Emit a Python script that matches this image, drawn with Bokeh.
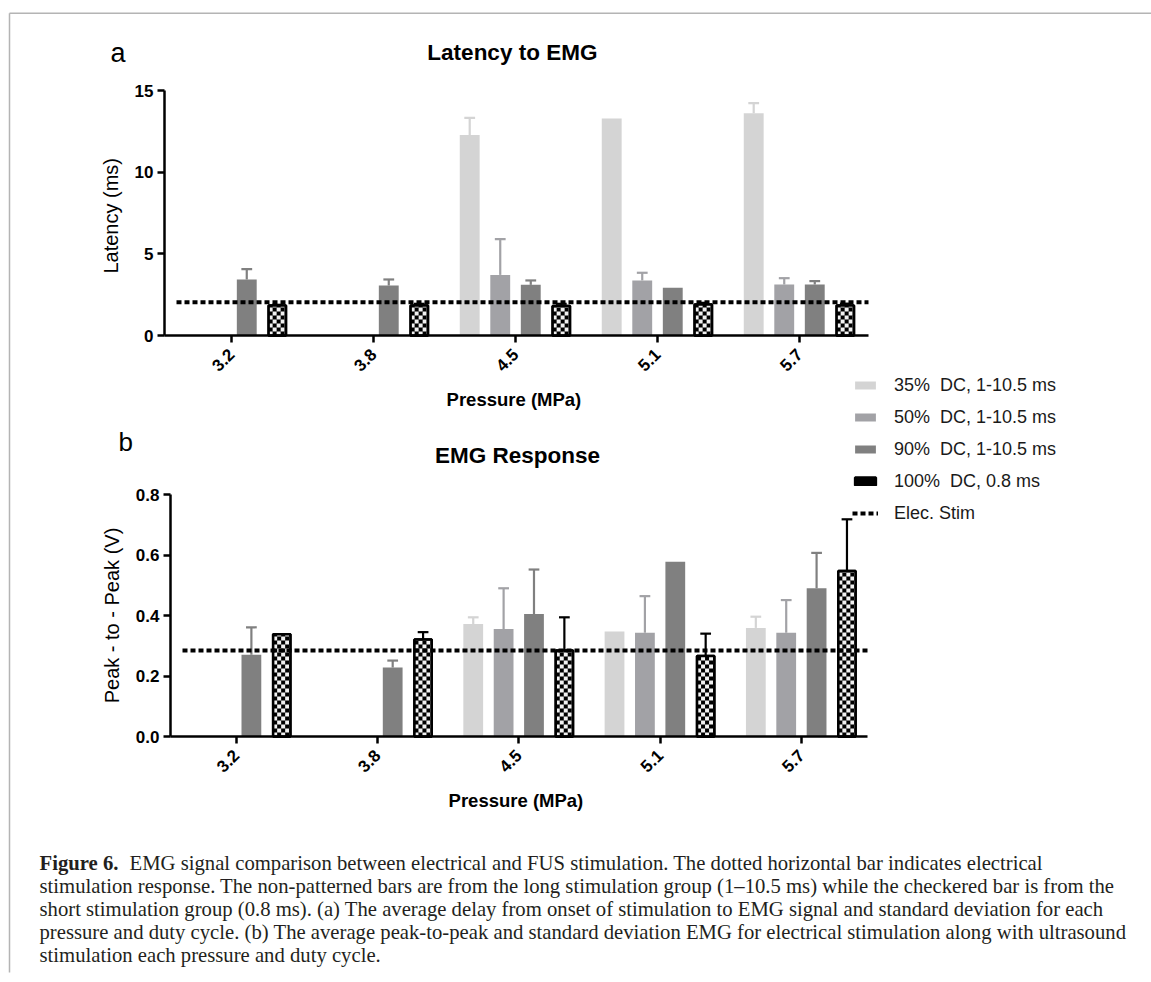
import math
from bokeh.plotting import figure
from bokeh.models import (ColumnDataSource, Range1d, FixedTicker, Label, Legend, LegendItem,
                          LinearAxis, NumeralTickFormatter)
from bokeh.embed import file_html
from bokeh.resources import INLINE

# ---------------- data ----------------
pressures = ["3.2", "3.8", "4.5", "5.1", "5.7"]
series_labels = ["35%  DC, 1-10.5 ms", "50%  DC, 1-10.5 ms", "90%  DC, 1-10.5 ms", "100%  DC, 0.8 ms"]
elec_label = "Elec. Stim"

nan = float("nan")
lat_35 = [nan, nan, 12.27, 13.29, 13.61]
lat_35_sd = [nan, nan, 1.06, 0.0, 0.62]
lat_50 = [nan, nan, 3.71, 3.37, 3.12]
lat_50_sd = [nan, nan, 2.19, 0.47, 0.39]
lat_90 = [3.43, 3.06, 3.10, 2.92, 3.12]
lat_90_sd = [0.63, 0.37, 0.27, 0.0, 0.21]
lat_100 = [1.84, 1.84, 1.80, 1.90, 1.84]
lat_100_sd = [0.04, 0.10, 0.14, 0.10, 0.11]
lat_elec = 2.03

emg_35 = [nan, nan, 0.372, 0.347, 0.359]
emg_35_sd = [nan, nan, 0.022, 0.0, 0.037]
emg_50 = [nan, nan, 0.355, 0.343, 0.343]
emg_50_sd = [nan, nan, 0.135, 0.121, 0.108]
emg_90 = [0.270, 0.228, 0.405, 0.578, 0.490]
emg_90_sd = [0.091, 0.023, 0.147, 0.0, 0.117]
emg_100 = [0.338, 0.321, 0.284, 0.266, 0.547]
emg_100_sd = [0.0, 0.024, 0.110, 0.074, 0.171]
emg_elec = 0.284

lat_ticks = [0, 5, 10, 15]
emg_ticks = [0.0, 0.2, 0.4, 0.6, 0.8]

title_a = "Latency to  EMG"
title_b = "EMG Response"
ylabel_a = "Latency  (ms)"
ylabel_b = "Peak - to - Peak (V)"
xlabel = "Pressure  (MPa)"

caption_bold = "Figure 6."
caption_lines = [
    "EMG signal comparison between electrical and FUS stimulation. The dotted horizontal bar indicates electrical",
    "stimulation response. The non-patterned bars are from the long stimulation group (1\u201310.5 ms) while the checkered bar is from the",
    "short stimulation group (0.8 ms). (a) The average delay from onset of stimulation to EMG signal and standard deviation for each",
    "pressure and duty cycle. (b) The average peak-to-peak and standard deviation EMG for electrical stimulation along with ultrasound",
    "stimulation each pressure and duty cycle.",
]

# ---------------- style / layout constants ----------------
W, H = 1151, 982
COLORS = ["#d4d4d4", "#a2a2a6", "#808080", "#000000"]
SANS = "Liberation Sans"
SERIF = "Liberation Serif"
STEP = 0.215      # offset between bars of a group (category units)
BAR_W = 0.14
CHK_W = 0.122
CAP = 0.038
CELL = 4.0        # checker cell size in px

# chart placement on the page: (x of first category, px per category,
#                                y of value 0, px per value unit, axis x-extent in px)
A = dict(x0=231.0, dx=142.0, y0=335.0, dy=245.0 / 15.0, left=164.0, right=868.0)
B = dict(x0=235.7, dx=141.3, y0=736.0, dy=242.0 / 0.8, left=170.0, right=867.0)

p = figure(width=W, height=H, x_range=Range1d(0, W), y_range=Range1d(H, 0),
           x_axis_location=None, y_axis_location=None, toolbar_location=None,
           output_backend="svg", title=None, min_border=0)
p.min_border_left = p.min_border_right = p.min_border_top = p.min_border_bottom = 0
p.grid.visible = False
p.outline_line_color = None
p.background_fill_color = "white"
p.border_fill_color = "white"


def to_x(c, px):
    return (px - c["x0"]) / c["dx"]


def setup_ranges(name, c):
    p.extra_x_ranges[name + "x"] = Range1d(to_x(c, 0), to_x(c, W))
    p.extra_y_ranges[name + "y"] = Range1d((c["y0"] - H) / c["dy"], c["y0"] / c["dy"])


def style_axis(ax):
    ax.axis_line_width = 2.5
    ax.axis_line_color = "black"
    ax.major_tick_line_width = 2.5
    ax.major_tick_line_color = "black"
    ax.major_tick_out = 7
    ax.major_tick_in = 0
    ax.minor_tick_line_color = None
    ax.major_label_text_font = SANS
    ax.major_label_text_font_style = "bold"
    ax.major_label_text_font_size = "17px"
    ax.major_label_text_color = "black"
    ax.axis_label_text_font = SANS
    ax.axis_label_text_font_style = "normal"
    ax.axis_label_text_font_size = "20px"
    ax.axis_label_text_color = "black"


def add_axes(name, c, ticks, ylabel, fmt=None):
    xl, xr = to_x(c, c["left"]), to_x(c, c["right"])
    yax = LinearAxis(x_range_name=name + "x", y_range_name=name + "y",
                     fixed_location=xl, bounds=(ticks[0], ticks[-1]),
                     ticker=FixedTicker(ticks=ticks), axis_label=ylabel)
    style_axis(yax)
    yax.major_label_standoff = 4
    yax.axis_label_standoff = 10
    if fmt:
        yax.formatter = NumeralTickFormatter(format=fmt)
    p.add_layout(yax, "left")
    xax = LinearAxis(x_range_name=name + "x", y_range_name=name + "y",
                     fixed_location=0, bounds=(xl, xr),
                     ticker=FixedTicker(ticks=list(range(len(pressures)))))
    style_axis(xax)
    xax.major_label_overrides = {i: lab for i, lab in enumerate(pressures)}
    xax.major_label_orientation = math.pi / 4
    xax.major_label_standoff = 9
    p.add_layout(xax, "below")
    return xl, xr


def add_bars(name, c, means, sds, elec, ex0, ex1):
    kw = dict(x_range_name=name + "x", y_range_name=name + "y")
    rends = []
    cw, ch = CELL / c["dx"], CELL / c["dy"]
    cells = dict(left=[], right=[], bottom=[], top=[])
    for k in range(4):
        m, s = means[k], sds[k]
        idx = [i for i, v in enumerate(m) if not math.isnan(v)]
        xs = [i + (k - 1.5) * STEP for i in idx]
        tops = [m[i] for i in idx]
        errs = [0.0 if math.isnan(s[i]) else s[i] for i in idx]
        src = ColumnDataSource(dict(x=xs, top=tops))
        if k < 3:
            r = p.vbar(x="x", top="top", width=BAR_W, source=src,
                       fill_color=COLORS[k], line_color=None, **kw)
        else:
            r = p.vbar(x="x", top="top", width=CHK_W, source=src,
                       fill_color="black", line_color="black", line_width=2.5, **kw)
            # checker cells derived from each bar's value
            for xc, v in zip(xs, tops):
                left, right = xc - CHK_W / 2, xc + CHK_W / 2
                ncol = int(math.ceil(CHK_W / cw))
                nrow = int(math.ceil(v / ch))
                for rr in range(nrow):
                    for cc in range(ncol):
                        if (rr + cc) % 2 == 0:
                            cells["left"].append(left + cc * cw)
                            cells["right"].append(min(left + (cc + 1) * cw, right))
                            cells["bottom"].append(rr * ch)
                            cells["top"].append(min((rr + 1) * ch, v))
            p.quad(source=ColumnDataSource(cells), fill_color="#f2f2f2", line_color=None, **kw)
            p.vbar(x="x", top="top", width=CHK_W, source=src,
                   fill_alpha=0, line_color="black", line_width=2.5, **kw)
        rends.append(r)
        e = [j for j, v in enumerate(errs) if v > 0]
        esrc = ColumnDataSource(dict(
            x=[xs[j] for j in e], y0=[tops[j] for j in e],
            y1=[tops[j] + errs[j] for j in e],
            xl=[xs[j] - CAP for j in e], xr=[xs[j] + CAP for j in e]))
        ec = COLORS[k]
        p.segment(x0="x", y0="y0", x1="x", y1="y1", source=esrc, line_color=ec,
                  line_width=2.2, **kw)
        p.segment(x0="xl", y0="y1", x1="xr", y1="y1", source=esrc, line_color=ec,
                  line_width=2.2, **kw)
    rl = p.line(x=[ex0, ex1], y=[elec, elec], line_color="black", line_width=4,
                line_dash="5 3", **kw)
    rends.append(rl)
    return rends


def page_label(text, x, y, size, bold=False, align="left", baseline="middle",
               font=SANS, color="black"):
    p.add_layout(Label(x=x, y=y, text=text, text_font=font, text_font_size=f"{size}px",
                       text_font_style="bold" if bold else "normal",
                       text_align=align, text_baseline=baseline, text_color=color))


# ---------------- chart a ----------------
setup_ranges("a", A)
axl, axr = add_axes("a", A, lat_ticks, ylabel_a)
add_bars("a", A, [lat_35, lat_50, lat_90, lat_100],
         [lat_35_sd, lat_50_sd, lat_90_sd, lat_100_sd], lat_elec, to_x(A, 176), axr)

# ---------------- chart b ----------------
setup_ranges("b", B)
bxl, bxr = add_axes("b", B, emg_ticks, ylabel_b, fmt="0.0")
rb = add_bars("b", B, [emg_35, emg_50, emg_90, emg_100],
              [emg_35_sd, emg_50_sd, emg_90_sd, emg_100_sd], emg_elec, to_x(B, 182), bxr)

# ---------------- texts (vertical centres) ----------------
page_label("a", 110, 52, 27)
page_label(title_a, 515, 51.5, 22.5, bold=True, align="center")
page_label(xlabel, 516, 399, 18.5, bold=True, align="center")
page_label("b", 118, 441, 26)
page_label(title_b, 517, 455, 22.5, bold=True, align="center")
page_label(xlabel, 518, 800, 18.5, bold=True, align="center")

# legend (built from chart b's renderers)
leg_items = [LegendItem(label=lab, renderers=[r])
             for lab, r in zip(series_labels + [elec_label], rb)]
legend = Legend(items=leg_items, location=(852, H - 523.5), orientation="vertical",
                glyph_width=26, glyph_height=10, label_standoff=16, spacing=11,
                label_height=21, padding=0, margin=0,
                border_line_alpha=0, background_fill_alpha=0,
                label_text_font=SANS, label_text_font_size="18px",
                label_text_color="#1a1a1a")
p.add_layout(legend)

# caption
cap_y = [862, 885, 908, 931, 954]
page_label(caption_bold, 39, cap_y[0], 20.7, bold=True, font=SERIF, color="#231f20")
for i, line in enumerate(caption_lines):
    page_label(line, 129 if i == 0 else 39, cap_y[i], 20.7, font=SERIF, color="#231f20")

# page frame lines
p.segment(x0=[9, 9], y0=[12.7, 12.7], x1=[W, 9], y1=[12.7, 972],
          line_color="#b4b4b4", line_width=1.5)

open("out.html", "w").write(file_html(p, INLINE))
